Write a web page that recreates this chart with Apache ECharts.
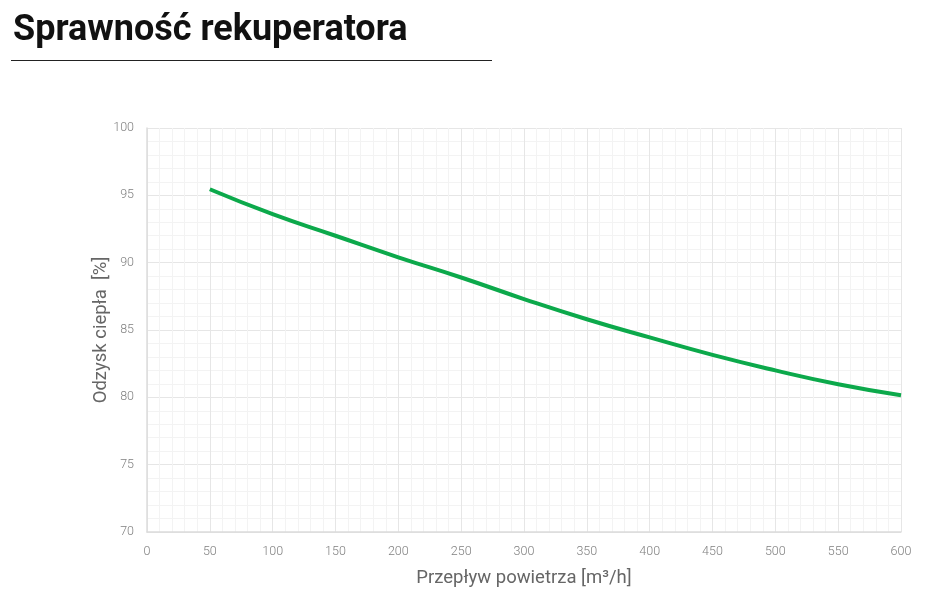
<!DOCTYPE html>
<html>
<head>
<meta charset="utf-8">
<script src="https://cdn.jsdelivr.net/npm/echarts@6/dist/echarts.min.js"></script>
<style>html,body{margin:0;padding:0;background:#fff}#c{width:929px;height:603px}</style>
</head>
<body>
<div id="c"></div>
<script>
const flow = [50, 100, 150, 200, 250, 300, 350, 400, 450, 500, 550, 600];
const efficiency = [95.45, 93.6, 92.0, 90.4, 88.9, 87.3, 85.8, 84.45, 83.15, 82.0, 80.97, 80.15];
const titleText = 'Sprawność rekuperatora';
const xName = 'Przepływ powietrza [m³/h]';
const yName = 'Odzysk ciepła  [%]';

const font = "'Roboto', sans-serif";
const chart = echarts.init(document.getElementById('c'));
chart.setOption({
  animation: false,
  title: {
    text: titleText, left: 8, top: 8,
    textStyle: { fontFamily: 'Roboto', fontWeight: 'bold', fontSize: 36, color: '#111' }
  },
  graphic: [{
    type: 'line', shape: { x1: 11, y1: 60.5, x2: 492, y2: 60.5 },
    style: { stroke: '#222', lineWidth: 1 }
  }],
  grid: { left: 147, right: 28, top: 128, bottom: 71, containLabel: false },
  xAxis: {
    type: 'value', min: 0, max: 600, interval: 50,
    name: xName, nameLocation: 'middle', nameGap: 37,
    nameTextStyle: { fontFamily: font, fontSize: 18.5, color: '#666' },
    axisLine: { show: true, lineStyle: { color: '#dcdcdc', width: 1.5 } },
    axisTick: { show: false },
    axisLabel: { fontFamily: font, fontWeight: 300, fontSize: 12.5, color: '#808080', margin: 13 },
    splitLine: { show: true, lineStyle: { color: '#e6e6e6' } },
    minorTick: { show: false, splitNumber: 5 },
    minorSplitLine: { show: true, lineStyle: { color: '#f3f3f3' } }
  },
  yAxis: {
    type: 'value', min: 70, max: 100, interval: 5,
    name: yName, nameLocation: 'middle', nameGap: 36, nameMoveOverlap: false,
    nameTextStyle: { fontFamily: font, fontSize: 18.5, color: '#666' },
    axisLine: { show: true, lineStyle: { color: '#dcdcdc', width: 1.5 } },
    axisTick: { show: false },
    axisLabel: { fontFamily: font, fontWeight: 300, fontSize: 12.5, color: '#808080', margin: 13 },
    splitLine: { show: true, lineStyle: { color: '#e6e6e6' } },
    minorTick: { show: false, splitNumber: 5 },
    minorSplitLine: { show: true, lineStyle: { color: '#f3f3f3' } }
  },
  series: [{
    type: 'line', smooth: true, symbol: 'none',
    data: flow.map((x, i) => [x, efficiency[i]]),
    lineStyle: { color: '#0ca94b', width: 4 }
  }]
});
</script>
</body>
</html>
